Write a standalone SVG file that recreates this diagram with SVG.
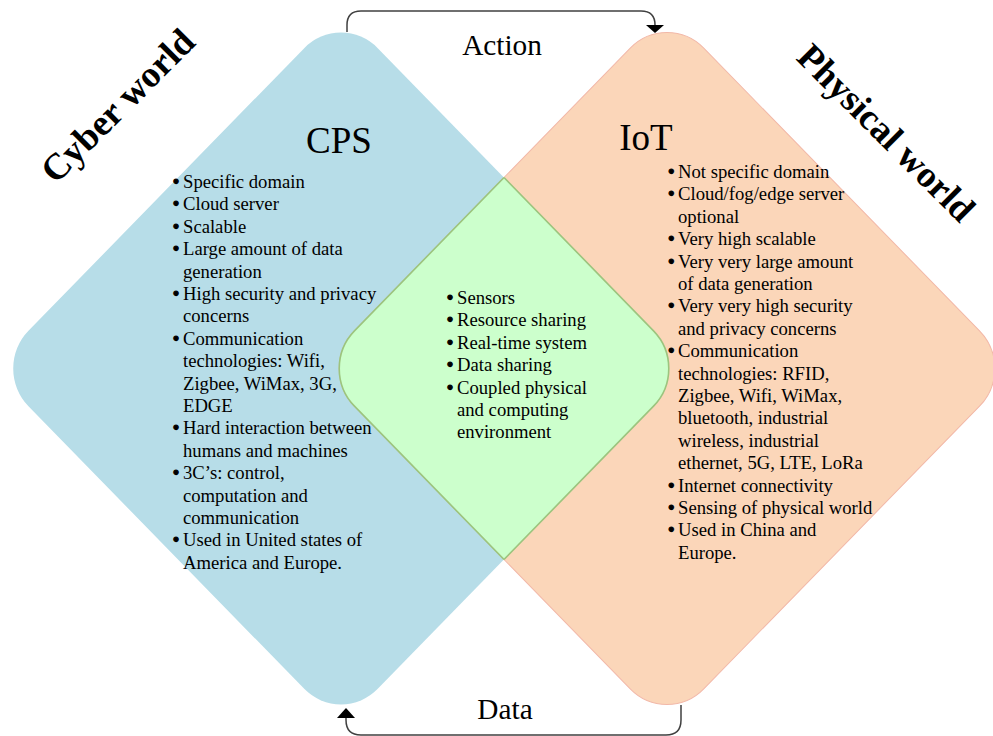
<svg xmlns="http://www.w3.org/2000/svg" xmlns:xlink="http://www.w3.org/1999/xlink" width="993" height="736" viewBox="0 0 993 736">
<style>
text{font-family:"Liberation Serif","Times New Roman",serif;fill:#000}
.li{font-size:18.67px}
.bu{font-size:18.67px;stroke:#000;stroke-width:1.2}
.big{font-size:37px}
.lbl{font-size:29.3px}
.world{font-size:37px;font-weight:bold}
.conn{fill:none;stroke:#404040;stroke-width:1.5}
.head{fill:#000}
</style>
<defs>
<rect id="sq" x="-247" y="-247" width="494" height="494" rx="52" ry="52"/>
<clipPath id="clipBlue"><use xlink:href="#sq" transform="translate(341,368.5) scale(1,1.025) rotate(45)"/></clipPath>
<clipPath id="clipOrange"><use xlink:href="#sq" transform="translate(667,368.5) scale(1,1.025) rotate(45)"/></clipPath>
</defs>
<rect width="993" height="736" fill="#fff"/>
<g id="connectors">
<path class="conn" d="M347,32 V25 Q347,11 361,11 H641 Q655,11 655,25"/>
<polygon class="head" points="646,25 664,25 655,33"/>
<path class="conn" d="M681,705 V720 Q681,735 666,735 H361 Q346,735 346,720 V717"/>
<polygon class="head" points="337,718 355,718 346,708"/>
</g>
<g id="cps">
<use xlink:href="#sq" transform="translate(341,368.5) scale(1,1.025) rotate(45)" fill="#b7dde8"/>
</g>
<g id="iot">
<use xlink:href="#sq" transform="translate(667,368.5) scale(1,1.025) rotate(45)" fill="#fbd6b9" stroke="#f2b8a8" stroke-width="1"/>
</g>
<g id="overlap">
<g clip-path="url(#clipBlue)">
<use xlink:href="#sq" transform="translate(667,368.5) scale(1,1.025) rotate(45)" fill="#ccffcc" stroke="#9cc47e" stroke-width="1.6"/>
</g>
<g clip-path="url(#clipOrange)">
<use xlink:href="#sq" transform="translate(341,368.5) scale(1,1.025) rotate(45)" fill="none" stroke="#9cc47e" stroke-width="1.6"/>
</g>
</g>
<g id="titles">
<text class="big" x="339" y="153" text-anchor="middle">CPS</text>
<text class="big" x="646" y="150" text-anchor="middle">IoT</text>
<text class="lbl" x="502" y="55" text-anchor="middle">Action</text>
<text class="lbl" x="505" y="719" text-anchor="middle">Data</text>
<text class="world" transform="translate(118,106) rotate(-45)" x="0" y="12" text-anchor="middle">Cyber world</text>
<text class="world" transform="translate(886,133) rotate(45)" x="0" y="12" text-anchor="middle">Physical world</text>
</g>
<g id="cps-list">
<text class="bu" x="172.8" y="188">•</text><text class="li" x="183" y="188">Specific domain</text>
<text class="bu" x="172.8" y="210.4">•</text><text class="li" x="183" y="210.4">Cloud server</text>
<text class="bu" x="172.8" y="232.8">•</text><text class="li" x="183" y="232.8">Scalable</text>
<text class="bu" x="172.8" y="255.2">•</text><text class="li" x="183" y="255.2">Large amount of data</text>
<text class="li" x="183" y="277.6">generation</text>
<text class="bu" x="172.8" y="300">•</text><text class="li" x="183" y="300">High security and privacy</text>
<text class="li" x="183" y="322.4">concerns</text>
<text class="bu" x="172.8" y="344.8">•</text><text class="li" x="183" y="344.8">Communication</text>
<text class="li" x="183" y="367.2">technologies: Wifi,</text>
<text class="li" x="183" y="389.6">Zigbee, WiMax, 3G,</text>
<text class="li" x="183" y="412">EDGE</text>
<text class="bu" x="172.8" y="434.4">•</text><text class="li" x="183" y="434.4">Hard interaction between</text>
<text class="li" x="183" y="456.8">humans and machines</text>
<text class="bu" x="172.8" y="479.2">•</text><text class="li" x="183" y="479.2">3C’s: control,</text>
<text class="li" x="183" y="501.6">computation and</text>
<text class="li" x="183" y="524">communication</text>
<text class="bu" x="172.8" y="546.4">•</text><text class="li" x="183" y="546.4">Used in United states of</text>
<text class="li" x="183" y="568.8">America and Europe.</text>
</g>
<g id="common-list">
<text class="bu" x="446.8" y="304">•</text><text class="li" x="457" y="304">Sensors</text>
<text class="bu" x="446.8" y="326.4">•</text><text class="li" x="457" y="326.4">Resource sharing</text>
<text class="bu" x="446.8" y="348.8">•</text><text class="li" x="457" y="348.8">Real-time system</text>
<text class="bu" x="446.8" y="371.2">•</text><text class="li" x="457" y="371.2">Data sharing</text>
<text class="bu" x="446.8" y="393.6">•</text><text class="li" x="457" y="393.6">Coupled physical</text>
<text class="li" x="457" y="416">and computing</text>
<text class="li" x="457" y="438.4">environment</text>
</g>
<g id="iot-list">
<text class="bu" x="668" y="178">•</text><text class="li" x="678" y="178">Not specific domain</text>
<text class="bu" x="668" y="200.4">•</text><text class="li" x="678" y="200.4">Cloud/fog/edge server</text>
<text class="li" x="678" y="222.8">optional</text>
<text class="bu" x="668" y="245.2">•</text><text class="li" x="678" y="245.2">Very high scalable</text>
<text class="bu" x="668" y="267.6">•</text><text class="li" x="678" y="267.6">Very very large amount</text>
<text class="li" x="678" y="290">of data generation</text>
<text class="bu" x="668" y="312.4">•</text><text class="li" x="678" y="312.4">Very very high security</text>
<text class="li" x="678" y="334.8">and privacy concerns</text>
<text class="bu" x="668" y="357.2">•</text><text class="li" x="678" y="357.2">Communication</text>
<text class="li" x="678" y="379.6">technologies: RFID,</text>
<text class="li" x="678" y="402">Zigbee, Wifi, WiMax,</text>
<text class="li" x="678" y="424.4">bluetooth, industrial</text>
<text class="li" x="678" y="446.8">wireless, industrial</text>
<text class="li" x="678" y="469.2">ethernet, 5G, LTE, LoRa</text>
<text class="bu" x="668" y="491.6">•</text><text class="li" x="678" y="491.6">Internet connectivity</text>
<text class="bu" x="668" y="514">•</text><text class="li" x="678" y="514">Sensing of physical world</text>
<text class="bu" x="668" y="536.4">•</text><text class="li" x="678" y="536.4">Used in China and</text>
<text class="li" x="678" y="558.8">Europe.</text>
</g>
</svg>
